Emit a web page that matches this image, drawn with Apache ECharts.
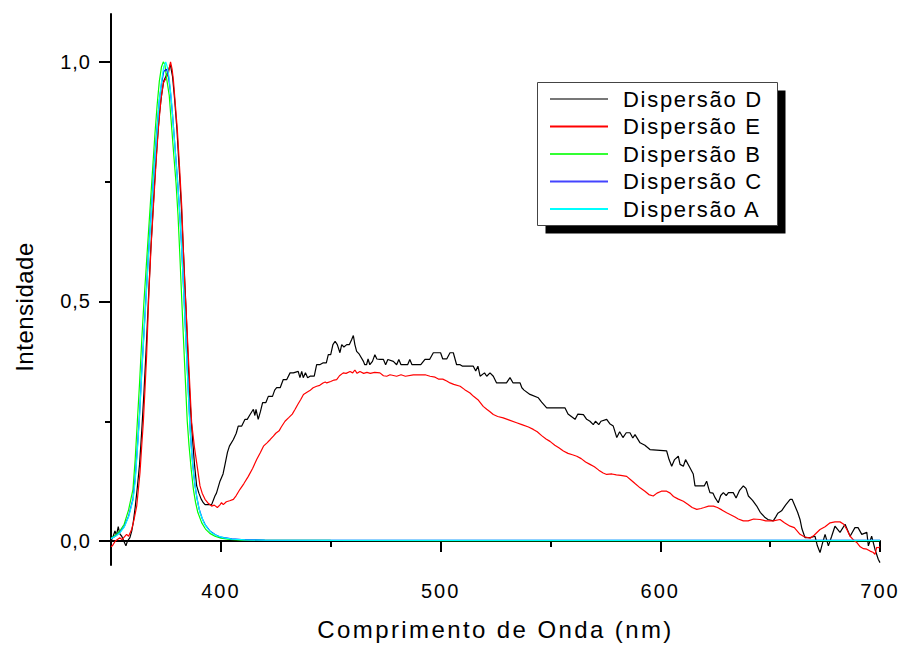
<!DOCTYPE html>
<html><head><meta charset="utf-8">
<script src="https://cdn.jsdelivr.net/npm/echarts@6/dist/echarts.min.js"></script>
<style>html,body{margin:0;padding:0;background:#fff}#c{width:901px;height:646px}</style>
</head><body><div id="c"></div>
<script>
const xMajorTicks = [400, 500, 600, 700];
const xMinorTicks = [350, 450, 550, 650];
const yMajorTicks = [0, 0.5, 1.0];
const yMinorTicks = [0.25, 0.75];
const seriesNames = ['Dispersão D', 'Dispersão E', 'Dispersão B', 'Dispersão C', 'Dispersão A'];
const seriesColors = ['#000000', '#ff0000', '#00ff00', '#0000ff', '#00ffff'];
const legendColors = ['#777777', '#ff0000', '#33ff33', '#4444ff', '#00ffff'];

const dispD = [[350,0.0],[351,0.01],[351.8,0.021],[352.5,0.012],[353.3,0.03],[354,0.015],[354.9,0.01],[355.8,0.0],[356.8,-0.01],[357.5,0.0],[358.6,0.007],[359.4,0.02],[360.1,0.038],[361,0.07],[361.9,0.108],[363,0.16],[364,0.23],[365,0.31],[366,0.4],[367,0.5],[368,0.6],[369,0.68],[370,0.76],[371,0.83],[372,0.89],[373,0.93],[374,0.96],[375,0.97],[376,0.98],[377,0.995],[378,0.97],[379,0.92],[380,0.86],[381,0.78],[382,0.7],[383,0.6],[384,0.5],[385,0.39],[386,0.29],[387,0.22],[388,0.16],[389,0.115],[390,0.1],[391,0.088],[392,0.08],[392.8,0.076],[395.8,0.076],[397.3,0.094],[398,0.1],[399.6,0.125],[401,0.14],[401.9,0.16],[403,0.185],[403.9,0.198],[405.7,0.212],[407,0.225],[407.9,0.24],[409.5,0.24],[411,0.254],[412,0.254],[413.3,0.264],[414.8,0.275],[415.5,0.262],[416,0.275],[417,0.254],[418,0.27],[419,0.289],[420.5,0.289],[421.6,0.302],[423.5,0.302],[424.5,0.315],[425.4,0.32],[427,0.32],[428.4,0.337],[430,0.337],[431.5,0.351],[433,0.351],[435.2,0.354],[436,0.341],[436.8,0.354],[437.5,0.341],[438.5,0.351],[439.5,0.341],[440.6,0.344],[442.5,0.344],[443.6,0.368],[445,0.368],[446.6,0.372],[448,0.372],[448.9,0.389],[450,0.389],[451,0.41],[452,0.417],[453,0.41],[454.2,0.393],[455,0.41],[456,0.405],[457.3,0.41],[458.5,0.41],[459.5,0.42],[460.3,0.429],[461,0.41],[461.8,0.396],[463,0.39],[464.9,0.375],[465.5,0.368],[466.3,0.368],[467,0.38],[467.8,0.368],[469,0.375],[470.1,0.389],[471,0.38],[472.4,0.379],[474,0.379],[475,0.368],[476,0.379],[478.5,0.375],[480,0.368],[481,0.379],[482,0.368],[485,0.368],[486,0.379],[487,0.368],[491,0.368],[492.9,0.379],[495,0.379],[496.7,0.393],[500,0.393],[501,0.38],[502.8,0.38],[504.3,0.393],[505.8,0.393],[507.3,0.368],[508.9,0.368],[510,0.365],[514.9,0.365],[516,0.355],[517,0.365],[518,0.344],[520,0.351],[521,0.344],[522.5,0.351],[524,0.344],[525.5,0.33],[530,0.33],[531.6,0.341],[533,0.33],[536.2,0.33],[537,0.32],[538,0.315],[540.7,0.306],[544.5,0.299],[546,0.29],[548.3,0.278],[556.6,0.278],[558,0.265],[561.2,0.254],[562.5,0.265],[565,0.264],[566.5,0.254],[568,0.25],[569.5,0.243],[570.5,0.25],[572,0.243],[573,0.25],[575.6,0.254],[577,0.245],[578.6,0.24],[580.2,0.216],[581.5,0.228],[583,0.216],[584.5,0.226],[586.2,0.226],[587.5,0.215],[588.5,0.222],[590.8,0.205],[593,0.2],[595.3,0.191],[602.9,0.188],[604,0.17],[605.2,0.156],[606.5,0.17],[608.2,0.177],[609,0.16],[610.5,0.156],[611.5,0.17],[613.5,0.153],[615,0.14],[615.8,0.115],[620,0.115],[621.1,0.125],[622,0.11],[622.6,0.101],[624,0.1],[625,0.09],[626.4,0.08],[627.5,0.095],[628.7,0.101],[630,0.095],[631,0.101],[633.2,0.101],[634.5,0.09],[636,0.105],[637.8,0.115],[639,0.11],[640.1,0.094],[642,0.085],[643.9,0.073],[645.5,0.06],[647.7,0.049],[649,0.045],[651.4,0.042],[652.5,0.05],[653.5,0.058],[655.2,0.063],[657,0.075],[659.1,0.087],[660,0.087],[661.3,0.073],[662.5,0.06],[663.6,0.045],[664.5,0.025],[665.9,0.007],[668.2,0.007],[670.4,0.01],[671.5,-0.01],[672.7,-0.024],[673.8,-0.005],[675,0.014],[676.5,-0.01],[678,0.01],[679.5,0.031],[681.8,0.018],[684.1,0.035],[685.5,0.02],[686.4,0.01],[688.6,0.028],[690,0.028],[691.7,0.014],[694,0.018],[694.7,-0.01],[696.2,0.01],[697.7,-0.017],[699.2,-0.038],[700,-0.045]];

const dispE = [[350,-0.012],[350.6,-0.01],[352,0.0],[354,0.007],[355,0.003],[357.1,0.014],[358,0.01],[359.4,0.024],[360.5,0.045],[361.7,0.073],[363.2,0.143],[364,0.2],[364.7,0.247],[365.5,0.32],[366.2,0.386],[367.3,0.525],[368.3,0.62],[369.3,0.698],[370.5,0.79],[371.5,0.858],[372.7,0.92],[373.8,0.956],[375,0.965],[376.1,0.976],[377.1,1.0],[377.8,0.985],[378.4,0.962],[379.3,0.91],[380.2,0.858],[381.2,0.78],[382.2,0.698],[383,0.6],[383.7,0.52],[384.1,0.49],[385.2,0.386],[386.7,0.247],[388,0.195],[389,0.163],[390.5,0.115],[391.5,0.1],[392.8,0.087],[394,0.08],[395.8,0.073],[397,0.075],[398.4,0.07],[399.5,0.075],[400.3,0.08],[401.1,0.076],[402.5,0.082],[404,0.084],[405.7,0.087],[407,0.095],[408.7,0.108],[410.5,0.12],[412.5,0.135],[414.5,0.152],[416.3,0.17],[418,0.185],[419.4,0.198],[421,0.205],[422.5,0.212],[423.9,0.219],[425,0.225],[426.5,0.23],[427.5,0.238],[429.2,0.25],[431,0.258],[432.5,0.265],[433.8,0.275],[435,0.285],[436.3,0.295],[437.6,0.306],[439,0.31],[440.5,0.314],[442,0.32],[443.6,0.323],[445,0.325],[446.5,0.33],[447.5,0.332],[448.2,0.33],[450,0.333],[451.5,0.336],[452.7,0.337],[454,0.345],[455.7,0.351],[457,0.35],[458.8,0.354],[460,0.351],[461,0.357],[462,0.35],[463.3,0.354],[465,0.35],[466.5,0.352],[468,0.35],[470,0.352],[472.4,0.351],[474,0.345],[475.5,0.344],[477,0.347],[480,0.344],[482,0.347],[484,0.344],[487.6,0.347],[490,0.347],[493,0.347],[495.2,0.344],[497.5,0.342],[499,0.338],[501,0.338],[502.8,0.334],[504.3,0.33],[506,0.327],[508.9,0.323],[511,0.316],[513.4,0.309],[515,0.302],[517,0.295],[519.4,0.281],[521,0.275],[522.5,0.27],[524,0.264],[526,0.26],[528.5,0.257],[531,0.253],[534.6,0.247],[537,0.243],[540,0.238],[542.2,0.233],[544,0.228],[546,0.22],[548,0.213],[549.8,0.208],[552,0.2],[554,0.194],[555.9,0.188],[558,0.183],[560,0.18],[562,0.177],[564,0.172],[566,0.165],[568,0.16],[570,0.155],[572,0.148],[574,0.142],[575.6,0.139],[578,0.14],[580,0.138],[582,0.137],[584.7,0.135],[586.5,0.128],[588.5,0.12],[590.8,0.111],[593,0.104],[594.8,0.097],[596.8,0.094],[598.5,0.1],[600.5,0.104],[602.9,0.104],[604.5,0.1],[606,0.093],[608,0.088],[610.5,0.083],[612.5,0.077],[614.5,0.07],[616.6,0.066],[618.5,0.068],[620,0.07],[622,0.073],[624.2,0.073],[626,0.07],[628,0.065],[630.2,0.059],[632,0.055],[634,0.05],[635.5,0.046],[637.8,0.042],[640,0.042],[642.5,0.046],[645.4,0.045],[648,0.042],[651.4,0.042],[654.5,0.045],[656.5,0.038],[659.1,0.031],[661,0.028],[663.6,0.014],[665.5,0.009],[668.2,0.006],[670,0.012],[672.7,0.024],[675,0.03],[677.3,0.038],[679.5,0.04],[681.8,0.04],[683.5,0.035],[684.9,0.024],[686.4,0.01],[688,0.002],[689.4,-0.003],[691,-0.012],[692.5,-0.016],[694,-0.017],[695.5,-0.021],[697,-0.024],[697.7,-0.028],[698.5,-0.013],[699.2,-0.014],[700,-0.012]];

const dispB = [[350,0.006],[352,0.012],[354,0.021],[356,0.035],[358,0.065],[360,0.108],[361,0.17],[362,0.25],[363,0.33],[364,0.42],[365,0.5],[366,0.57],[367,0.64],[368,0.71],[369,0.78],[370,0.85],[371,0.91],[372,0.96],[373,0.99],[373.8,1.0],[374.5,0.995],[375.5,0.96],[376.5,0.93],[377.5,0.87],[378.5,0.81],[379.6,0.747],[380.5,0.68],[381.3,0.6],[382.2,0.504],[383,0.42],[383.8,0.34],[384.7,0.25],[385.5,0.2],[386.5,0.15],[387.5,0.108],[388.5,0.08],[389.5,0.06],[391.3,0.038],[393,0.025],[395,0.016],[397.3,0.01],[400,0.006],[404,0.0035],[410,0.002],[420,0.0015],[450,0.0012],[500,0.001],[550,0.001],[600,0.001],[650,0.001],[700,0.001]];

const dispC = [[350,0.005],[352,0.01],[354,0.018],[356,0.03],[358,0.052],[360,0.088],[361,0.13],[362,0.195],[363,0.265],[364,0.355],[365,0.435],[366,0.515],[367,0.595],[368,0.665],[369,0.735],[370,0.805],[371,0.865],[372,0.92],[373,0.955],[374,0.98],[375.2,0.985],[376,0.975],[377,0.94],[378,0.89],[379,0.83],[380,0.77],[381,0.705],[382,0.625],[383,0.53],[383.8,0.45],[384.6,0.37],[385.4,0.29],[386.2,0.22],[387.1,0.165],[388.1,0.12],[389.1,0.09],[390.1,0.067],[391.5,0.047],[393,0.033],[395,0.021],[397.5,0.013],[400,0.008],[405,0.0045],[411,0.0027],[420,0.002],[450,0.0015],[500,0.0012],[550,0.0012],[600,0.0012],[650,0.0012],[700,0.0012]];

const dispA = [[350,0.005],[352,0.01],[354,0.017],[356,0.029],[358,0.05],[360,0.085],[361,0.125],[362,0.19],[363,0.26],[364,0.35],[365,0.43],[366,0.51],[367,0.59],[368,0.66],[369,0.73],[370,0.8],[371,0.86],[372,0.92],[373,0.96],[374,0.99],[374.9,1.0],[375.6,0.99],[376.5,0.965],[377.5,0.92],[378.5,0.86],[379.5,0.8],[380.5,0.74],[381.5,0.67],[382.5,0.58],[383.3,0.5],[384.2,0.41],[385,0.33],[385.8,0.25],[386.6,0.19],[387.6,0.14],[388.6,0.105],[389.6,0.078],[390.6,0.058],[392.3,0.038],[394,0.026],[396,0.017],[398.3,0.011],[401,0.007],[405,0.004],[411,0.0025],[420,0.0018],[450,0.0014],[500,0.0012],[550,0.0012],[600,0.0012],[650,0.0012],[700,0.0012]];

const seriesData = [dispD, dispE, dispB, dispC, dispA];
const FONT = 'Liberation Sans';

const chart = echarts.init(document.getElementById('c'), null, {renderer: 'svg'});
const tickStyle = {color: '#000', width: 2};
const option = {
  animation: false,
  backgroundColor: '#fff',
  grid: {left: 111, right: 21, top: 14, bottom: 80},
  xAxis: [{
    type: 'value', min: 350, max: 700,
    name: 'Comprimento de Onda (nm)', nameLocation: 'middle', nameGap: 52,
    nameTextStyle: {fontFamily: FONT, fontSize: 24, color: '#000'},
    axisLine: {lineStyle: tickStyle},
    axisTick: {customValues: xMajorTicks, length: 11, lineStyle: tickStyle},
    axisLabel: {customValues: xMajorTicks, margin: 16, fontFamily: FONT, fontSize: 20, color: '#000'},
    splitLine: {show: false}
  }, {
    type: 'value', min: 350, max: 700, position: 'bottom',
    axisLine: {show: false},
    axisTick: {customValues: xMinorTicks, length: 6, lineStyle: tickStyle},
    axisLabel: {show: false}, splitLine: {show: false}
  }],
  yAxis: [{
    type: 'value', min: -0.05, max: 1.1,
    name: 'Intensidade', nameLocation: 'middle', nameRotate: 90, nameGap: 75,
    nameTextStyle: {fontFamily: FONT, fontSize: 24, color: '#000', padding: [0, 35, 0, 0]},
    axisLine: {show: true, lineStyle: tickStyle},
    axisTick: {show: true, customValues: yMajorTicks, length: 12, lineStyle: tickStyle},
    axisLabel: {customValues: yMajorTicks, margin: 20, fontFamily: FONT, fontSize: 20, color: '#000',
      formatter: v => v.toFixed(1).replace('.', ',')},
    splitLine: {show: false}
  }, {
    type: 'value', min: -0.05, max: 1.1, position: 'left',
    axisLine: {show: false},
    axisTick: {show: true, customValues: yMinorTicks, length: 6, lineStyle: tickStyle},
    axisLabel: {show: false}, splitLine: {show: false}
  }],
  legend: {
    orient: 'vertical', left: 550, top: 88, padding: 0,
    itemWidth: 58, itemHeight: 2, itemGap: 5.5, icon: 'rect',
    textStyle: {fontFamily: FONT, fontSize: 22, lineHeight: 22, color: '#000', padding: [0, 0, 0, 10]},
    data: seriesNames.map((n, i) => ({name: n, itemStyle: {color: legendColors[i]}})),
    z: 10, selectedMode: false
  },
  graphic: [
    {type: 'rect', z: 5, shape: {x: 545.5, y: 90.5, width: 240, height: 143}, style: {fill: '#000'}},
    {type: 'rect', z: 6, shape: {x: 537.5, y: 82.5, width: 240, height: 143}, style: {fill: '#fff', stroke: '#444', lineWidth: 1}}
  ],
  series: seriesNames.map((n, i) => ({
    name: n, type: 'line', xAxisIndex: 0, yAxisIndex: 0,
    data: seriesData[i], showSymbol: false, symbol: 'none',
    color: seriesColors[i],
    itemStyle: {color: seriesColors[i]},
    lineStyle: {color: seriesColors[i], width: 1.2},
    z: 2 + i * 0.1
  }))
};
chart.setOption(option);

function spacing() {
  document.querySelectorAll('#c svg text').forEach(t => {
    const s = t.textContent;
    let ls = 0;
    if (s.indexOf('Dispers') === 0) ls = 1.7;
    else if (s.indexOf('Comprimento') === 0) ls = 2.4;
    else if (s === 'Intensidade') ls = 0.5;
    else if (s.indexOf(',') > 0) ls = 1;
    else if (/^\d+$/.test(s)) ls = 2;
    t.style.letterSpacing = ls + 'px';
  });
}
spacing();
chart.on('finished', spacing);
setTimeout(spacing, 50);
</script></body></html>
